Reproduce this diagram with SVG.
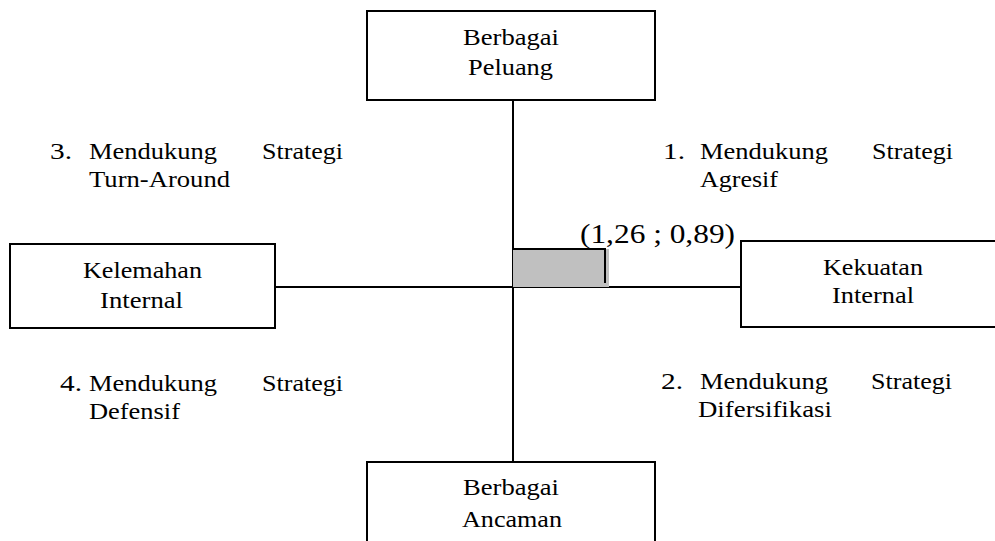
<svg xmlns="http://www.w3.org/2000/svg" width="995" height="541" viewBox="0 0 995 541">
<style>
.box{fill:#fff;stroke:#000;stroke-width:2}
.ln{stroke:#000;stroke-width:2;fill:none}
</style>
<rect width="995" height="541" fill="#fff"/>
<g id="connectors">
<line class="ln" x1="513" y1="100" x2="513" y2="462"/>
<line class="ln" x1="275" y1="287" x2="741" y2="287"/>
</g>
<g font-family="Liberation Serif, Times New Roman, DejaVu Serif, serif" font-size="23" fill="#000">
<g id="point">
<rect x="513" y="249" width="96" height="38" fill="#c0c0c0"/>
<line class="ln" x1="513" y1="249" x2="606" y2="249"/>
<line class="ln" x1="605" y1="249" x2="605" y2="283"/>
<text x="580" y="243" font-size="27" textLength="155" lengthAdjust="spacingAndGlyphs">(1,26 ; 0,89)</text>
</g>
<g id="peluang">
<rect class="box" x="367" y="11" width="288" height="89"/>
<text x="463" y="45" textLength="96" lengthAdjust="spacingAndGlyphs">Berbagai</text>
<text x="468" y="75" textLength="85" lengthAdjust="spacingAndGlyphs">Peluang</text>
</g>
<g id="ancaman">
<rect class="box" x="367" y="462" width="288" height="90"/>
<text x="463" y="495" textLength="96" lengthAdjust="spacingAndGlyphs">Berbagai</text>
<text x="462" y="527" textLength="100" lengthAdjust="spacingAndGlyphs">Ancaman</text>
</g>
<g id="kelemahan">
<rect class="box" x="10" y="244" width="265" height="84"/>
<text x="83" y="278" textLength="119" lengthAdjust="spacingAndGlyphs">Kelemahan</text>
<text x="100" y="308" textLength="83" lengthAdjust="spacingAndGlyphs">Internal</text>
</g>
<g id="kekuatan">
<rect class="box" x="741" y="241" width="270" height="86"/>
<text x="823" y="275" textLength="100" lengthAdjust="spacingAndGlyphs">Kekuatan</text>
<text x="832" y="303" textLength="82" lengthAdjust="spacingAndGlyphs">Internal</text>
</g>
<g id="q1">
<text x="663" y="159" textLength="22" lengthAdjust="spacingAndGlyphs">1.</text>
<text x="700" y="159" textLength="128" lengthAdjust="spacingAndGlyphs">Mendukung</text>
<text x="872" y="159" textLength="81" lengthAdjust="spacingAndGlyphs">Strategi</text>
<text x="700" y="187" textLength="78" lengthAdjust="spacingAndGlyphs">Agresif</text>
</g>
<g id="q2">
<text x="661" y="389" textLength="22" lengthAdjust="spacingAndGlyphs">2.</text>
<text x="700" y="389" textLength="128" lengthAdjust="spacingAndGlyphs">Mendukung</text>
<text x="871" y="389" textLength="81" lengthAdjust="spacingAndGlyphs">Strategi</text>
<text x="698" y="417" textLength="134" lengthAdjust="spacingAndGlyphs">Difersifikasi</text>
</g>
<g id="q3">
<text x="50" y="159" textLength="22" lengthAdjust="spacingAndGlyphs">3.</text>
<text x="89" y="159" textLength="128" lengthAdjust="spacingAndGlyphs">Mendukung</text>
<text x="262" y="159" textLength="81" lengthAdjust="spacingAndGlyphs">Strategi</text>
<text x="89" y="187" textLength="141" lengthAdjust="spacingAndGlyphs">Turn-Around</text>
</g>
<g id="q4">
<text x="60" y="391" textLength="22" lengthAdjust="spacingAndGlyphs">4.</text>
<text x="89" y="391" textLength="128" lengthAdjust="spacingAndGlyphs">Mendukung</text>
<text x="262" y="391" textLength="81" lengthAdjust="spacingAndGlyphs">Strategi</text>
<text x="89" y="419" textLength="91" lengthAdjust="spacingAndGlyphs">Defensif</text>
</g>
</g>
</svg>
